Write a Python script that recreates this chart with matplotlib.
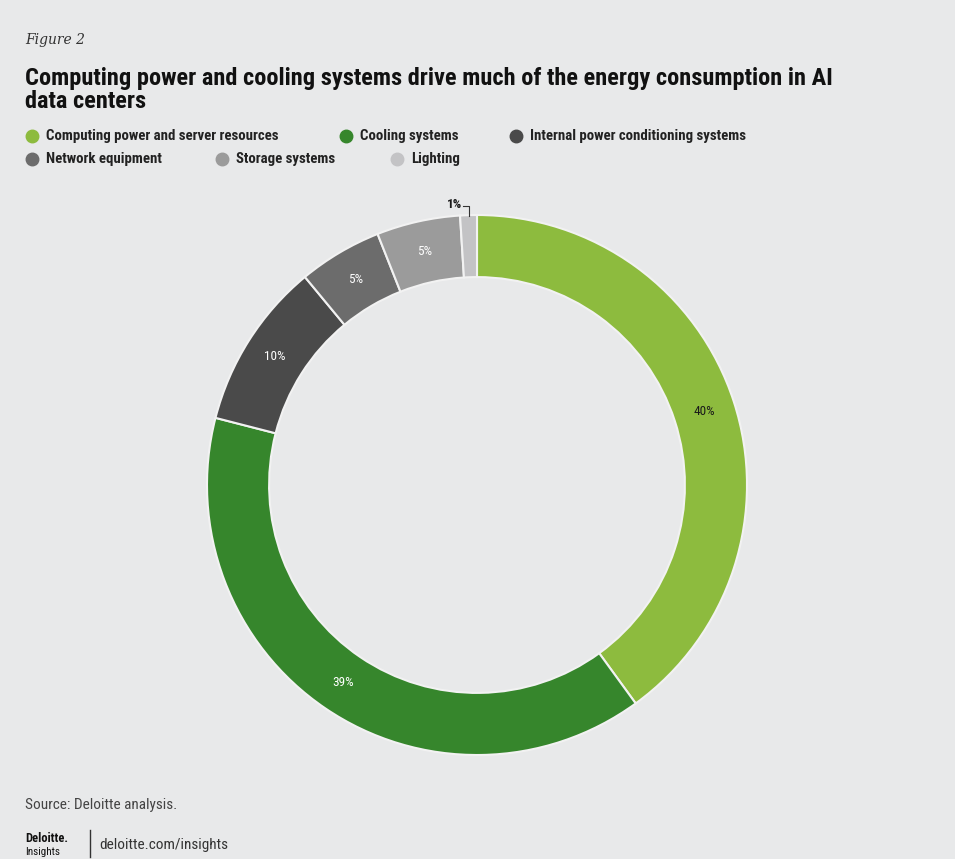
import numpy as np
import matplotlib
matplotlib.use("Agg")
import matplotlib.pyplot as plt
from matplotlib.lines import Line2D
from matplotlib import font_manager

# Data
categories = ["Computing power and server resources", "Cooling systems",
              "Internal power conditioning systems", "Network equipment",
              "Storage systems", "Lighting"]
shares = [40, 39, 10, 5, 5, 1]
colors = ["#8dbb3e", "#36862c", "#4a4a4a", "#6c6c6c", "#9b9b9b", "#c3c3c5"]
label_colors = ["#1a1a1a", "white", "white", "white", "white", "#1a1a1a"]

bg = "#e8e9ea"

# pick a narrow-ish family if one is installed
installed = {f.name for f in font_manager.fontManager.ttflist}
narrow = next((n for n in ["Roboto Condensed", "Liberation Sans Narrow",
                           "Open Sans Condensed", "Roboto"] if n in installed), "DejaVu Sans")

fig = plt.figure(figsize=(9.55, 8.59), dpi=100, facecolor=bg)
renderer = fig.canvas.get_renderer()


def fit_text(x, y, s, width_px, **kw):
    t = fig.text(x, y, s, **kw)
    w = t.get_window_extent(renderer).width
    t.set_fontsize(t.get_fontsize() * width_px / w)
    return t


# Header
fig.text(25 / 955, 1 - 40 / 859, "Figure 2", family="DejaVu Serif", style="italic",
         fontsize=10, color="#333333", va="center")
title = fit_text(25 / 955, 1 - 78 / 859,
                 "Computing power and cooling systems drive much of the energy consumption in AI",
                 811, family=narrow, fontweight="black", fontsize=17, color="#111111", va="center")
fig.text(25 / 955, 1 - 102 / 859, "data centers", family=narrow, fontweight="black",
         fontsize=title.get_fontsize(), color="#111111", va="center")

# Legend (two rows)
legend_x = [32, 346, 516, 32, 222, 397]
legend_y = [136, 136, 136, 159, 159, 159]
legend_fs = None
for name, col, lx, ly in zip(categories, colors, legend_x, legend_y):
    fig.add_artist(Line2D([lx / 955], [1 - ly / 859], marker="o", markersize=9,
                          color=col, linestyle="none", transform=fig.transFigure))
    if legend_fs is None:
        legend_fs = fit_text((lx + 14) / 955, 1 - ly / 859, name, 233, family=narrow,
                             fontweight="bold", fontsize=9, color="#222222",
                             va="center").get_fontsize()
    else:
        fig.text((lx + 14) / 955, 1 - ly / 859, name, family=narrow, fontweight="bold",
                 fontsize=legend_fs, color="#222222", va="center")

# Donut
ax = fig.add_axes([207 / 955, 104 / 859, 540 / 955, 540 / 859])
ax.set_facecolor(bg)
wedges, _ = ax.pie(shares, colors=colors, startangle=90, counterclock=False,
                   radius=1, wedgeprops=dict(width=0.23, edgecolor="#f2f2f2", linewidth=1.5))
ax.set_xlim(-1, 1)
ax.set_ylim(-1, 1)
ax.set_aspect("equal")
ax.axis("off")

for w, val, tc in zip(wedges, shares, label_colors):
    mid = np.deg2rad((w.theta1 + w.theta2) / 2)
    if val < 2:
        # small slice: label outside with a short leader
        x0, y0 = 0.995 * np.cos(mid), 0.995 * np.sin(mid)
        ax.plot([x0, x0, x0 - 0.02], [y0, y0 + 0.04, y0 + 0.04], color="#333333", lw=0.8,
                clip_on=False)
        ax.text(x0 - 0.025, y0 + 0.045, f"{val}%", ha="right", va="center",
                family=narrow, fontsize=9.5, fontweight="bold", color=tc)
    else:
        r = 0.885
        ax.text(r * np.cos(mid), r * np.sin(mid), f"{val}%", ha="center", va="center",
                family=narrow, fontsize=9.5, color=tc)

# Footer
fig.text(25 / 955, 1 - 805 / 859, "Source: Deloitte analysis.", family=narrow,
         fontsize=11, color="#444444", va="center")
fig.text(25 / 955, 1 - 838 / 859, "Deloitte.", family=narrow, fontweight="bold",
         fontsize=9, color="#111111", va="center")
fig.text(25 / 955, 1 - 852 / 859, "Insights", family=narrow,
         fontsize=8, color="#111111", va="center")
fig.add_artist(Line2D([90 / 955, 90 / 955], [1 - 830 / 859, 1 - 857 / 859],
                      color="#333333", lw=1, transform=fig.transFigure))
fig.text(99 / 955, 1 - 845 / 859, "deloitte.com/insights", family=narrow,
         fontsize=11, color="#333333", va="center")

fig.savefig("out.png", dpi=100, facecolor=bg)
